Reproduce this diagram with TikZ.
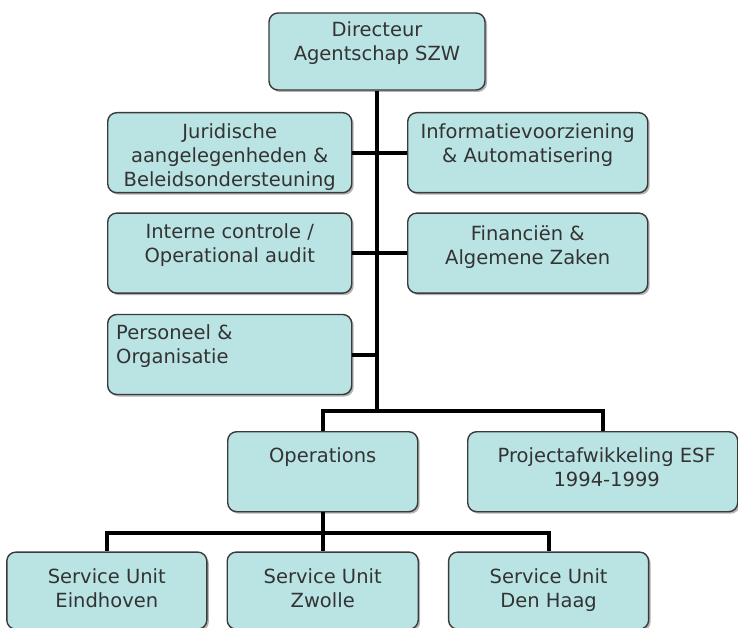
\documentclass[tikz,border=0pt]{standalone}
\usepackage{fontspec}
\setmainfont{DejaVu Sans}
\usepackage{xcolor}
\usetikzlibrary{positioning,shadows,calc}

\definecolor{boxfill}{HTML}{BAE4E3}
\definecolor{boxline}{HTML}{3A3A3A}

\tikzset{
	unit/.style={draw=boxline, line width=1.4pt, fill=boxfill, rounded corners=9pt, inner sep=0pt,
		drop shadow={shadow xshift=2pt, shadow yshift=-2pt, fill=black!50, opacity=0.6}},
	toptext/.style={anchor=north, yshift=-11pt, align=center, inner sep=0pt, text=black!80,
		font=\fontsize{19.5}{24}\selectfont},
	link/.style={line width=4pt},
}

\begin{document}
\begin{tikzpicture}[x=1pt, y=-1pt]
	\useasboundingbox (0,0) rectangle (738,628);

	\node[unit, minimum width=216pt, minimum height=77pt, label={[toptext, yshift=2pt]north:{Directeur\\Agentschap SZW}}] (dir) at (377,51.5) {};
	\node[unit, minimum width=244pt, minimum height=80pt, anchor=north west, label={[toptext]north:{Juridische\\aangelegenheden \&\\Beleidsondersteuning}}] (jur) at (107,112) {};
	\node[unit, minimum width=240pt, minimum height=80pt, anchor=north west, label={[toptext]north:{Informatievoorziening\\\& Automatisering}}] (inf) at (407,112) {};
	\node[unit, minimum width=244pt, minimum height=80pt, below=19pt of jur, label={[toptext]north:{Interne controle /\\Operational audit}}] (int) {};
	\node[unit, minimum width=240pt, minimum height=80pt, below=19pt of inf, label={[toptext, yshift=-2pt]north:{Financiën \&\\Algemene Zaken}}] (fin) {};
	\node[unit, minimum width=244pt, minimum height=80pt, below=20pt of int, label={[toptext, anchor=north west, align=left, xshift=9pt]north west:{Personeel \&\\Organisatie}}] (pers) {};

	\node[unit, minimum width=190pt, minimum height=80pt, anchor=north west, label={[toptext, yshift=-5pt]north:{Operations}}] (ops) at (227,431) {};
	\node[unit, minimum width=270pt, minimum height=80pt, anchor=north west, label={[toptext, yshift=-5pt, xshift=4pt]north:{Projectafwikkeling ESF\\1994-1999}}] (proj) at (467,431) {};

	\node[unit, minimum width=191pt, minimum height=77pt, below=39pt of ops, label={[toptext, yshift=-6pt]north:{Service Unit\\Zwolle}}] (zw) {};
	\node[unit, minimum width=200pt, minimum height=77pt, left=19pt of zw, label={[toptext, yshift=-6pt]north:{Service Unit\\Eindhoven}}] (eind) {};
	\node[unit, minimum width=200pt, minimum height=77pt, right=29pt of zw, label={[toptext, yshift=-6pt]north:{Service Unit\\Den Haag}}] (dh) {};

	\coordinate (split) at (377,411);
	\coordinate (opsplit) at ($(ops.south)+(0,21)$);

	\draw[link] (dir.south) -- (split);
	\draw[link] (jur.east) -- (jur.east -| split);
	\draw[link] (inf.west) -- (inf.west -| split);
	\draw[link] (int.east) -- (int.east -| split);
	\draw[link] (fin.west) -- (fin.west -| split);
	\draw[link] (pers.east) -- (pers.east -| split);
	\draw[link] (ops.north) |- (split) -| (proj.north);

	\draw[link] (ops.south) -- (opsplit);
	\draw[link] (eind.north) |- (opsplit) -| (dh.north);
	\draw[link] (opsplit) -- (zw.north);
\end{tikzpicture}
\end{document}
